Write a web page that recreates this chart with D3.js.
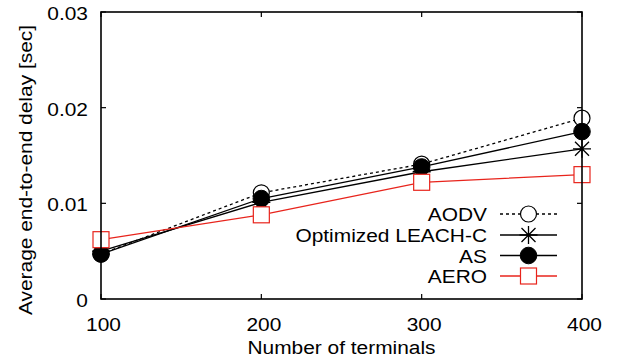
<!DOCTYPE html>
<html>
<head>
<meta charset="utf-8">
<script src="https://cdn.jsdelivr.net/npm/d3@7"></script>
<style>
  body { margin: 0; background: #fff; }
  svg { display: block; }
  text { font-family: "Liberation Sans", Arial, sans-serif; fill: #000; }
</style>
</head>
<body>
<svg id="chart" width="618" height="362"></svg>
<script>
// ---- data ----
const terminals = [100, 200, 300, 400];
const seriesNames = ["AODV", "Optimized LEACH-C", "AS", "AERO"];
const aodv  = [0.0047, 0.0111, 0.0141, 0.0189];
const leach = [0.0050, 0.0101, 0.0133, 0.0157];
const as    = [0.0047, 0.0105, 0.0138, 0.0175];
const aero  = [0.0062, 0.0088, 0.0122, 0.0130];
const xTicks = [100, 200, 300, 400];
const yTicks = [0, 0.01, 0.02, 0.03];
const yTickLabels = ["0", "0.01", "0.02", "0.03"];
const xTitle = "Number of terminals";
const yTitle = "Average end-to-end delay [sec]";

const series = [
  { name: seriesNames[0], values: aodv,  color: "#000", dash: "3,3", marker: "circleOpen" },
  { name: seriesNames[1], values: leach, color: "#000", dash: null,  marker: "asterisk" },
  { name: seriesNames[2], values: as,    color: "#000", dash: null,  marker: "circleFilled" },
  { name: seriesNames[3], values: aero,  color: "#e8241c", dash: null, marker: "square" }
];

const svg = d3.select("#chart");
const L = 101, R = 582, T = 12, B = 299;
const x = d3.scaleLinear().domain([100, 400]).range([L, R]);
const y = d3.scaleLinear().domain([0, 0.03]).range([B, T]);
const fs = 19, sx = 1.1;

function label(px, py, str, anchor, rot) {
  const r = rot ? ` rotate(${rot})` : "";
  return svg.append("text")
    .attr("transform", `translate(${px},${py})${r} scale(${sx},1)`)
    .attr("text-anchor", anchor).attr("font-size", fs).text(str);
}

// ticks (inward, mirrored)
const tk = 5;
const g = svg.append("g");
xTicks.forEach(v => {
  g.append("line").attr("x1", x(v)).attr("x2", x(v)).attr("y1", B).attr("y2", B - tk).attr("stroke", "#000").attr("stroke-width", 1.2);
  g.append("line").attr("x1", x(v)).attr("x2", x(v)).attr("y1", T).attr("y2", T + tk).attr("stroke", "#000").attr("stroke-width", 1.2);
  label(x(v) + 2.5, 330.5, v, "middle");
});
yTicks.forEach((v, i) => {
  g.append("line").attr("x1", L).attr("x2", L + tk).attr("y1", y(v)).attr("y2", y(v)).attr("stroke", "#000").attr("stroke-width", 1.2);
  g.append("line").attr("x1", R).attr("x2", R - tk).attr("y1", y(v)).attr("y2", y(v)).attr("stroke", "#000").attr("stroke-width", 1.2);
  label(88, y(v) + 8, yTickLabels[i], "end");
});

// axis titles
label((L + R) / 2, 353.5, xTitle, "middle");
label(32, 170, yTitle, "middle", -90);

// markers
function drawMarker(sel, type, cx, cy, color) {
  if (type === "circleOpen") {
    sel.append("circle").attr("cx", cx).attr("cy", cy).attr("r", 8).attr("fill", "#fff").attr("stroke", color).attr("stroke-width", 1.2);
  } else if (type === "circleFilled") {
    sel.append("circle").attr("cx", cx).attr("cy", cy).attr("r", 8.3).attr("fill", color).attr("stroke", color).attr("stroke-width", 1);
  } else if (type === "square") {
    sel.append("rect").attr("x", cx - 8).attr("y", cy - 8).attr("width", 16).attr("height", 16).attr("fill", "#fff").attr("stroke", color).attr("stroke-width", 1.2);
  } else if (type === "asterisk") {
    const s = 9, d = 7;
    const p = `M${cx - s},${cy}L${cx + s},${cy}M${cx},${cy - s}L${cx},${cy + s}M${cx - d},${cy - d}L${cx + d},${cy + d}M${cx - d},${cy + d}L${cx + d},${cy - d}`;
    sel.append("path").attr("d", p).attr("stroke", color).attr("stroke-width", 1.3).attr("fill", "none");
  }
}

// lines and points
const line = d3.line().x((d, i) => x(terminals[i])).y(d => y(d));
series.forEach(s => {
  const gs = svg.append("g");
  gs.append("path").attr("d", line(s.values)).attr("fill", "none").attr("stroke", s.color).attr("stroke-width", 1.3).attr("stroke-dasharray", s.dash);
});
series.forEach(s => {
  const gs = svg.append("g");
  s.values.forEach((v, i) => drawMarker(gs, s.marker, x(terminals[i]), y(v), s.color));
});

// legend
const legY = [214, 235, 255.5, 276];
series.forEach((s, i) => {
  const gl = svg.append("g");
  label(487, legY[i] + 7, s.name, "end");
  gl.append("line").attr("x1", 500).attr("x2", 557).attr("y1", legY[i]).attr("y2", legY[i]).attr("stroke", s.color).attr("stroke-width", 1.3).attr("stroke-dasharray", s.dash);
  drawMarker(gl, s.marker, 528.5, legY[i], s.color);
});

// border
svg.append("rect").attr("x", L).attr("y", T).attr("width", R - L).attr("height", B - T).attr("fill", "none").attr("stroke", "#000").attr("stroke-width", 1.6);
</script>
</body>
</html>
